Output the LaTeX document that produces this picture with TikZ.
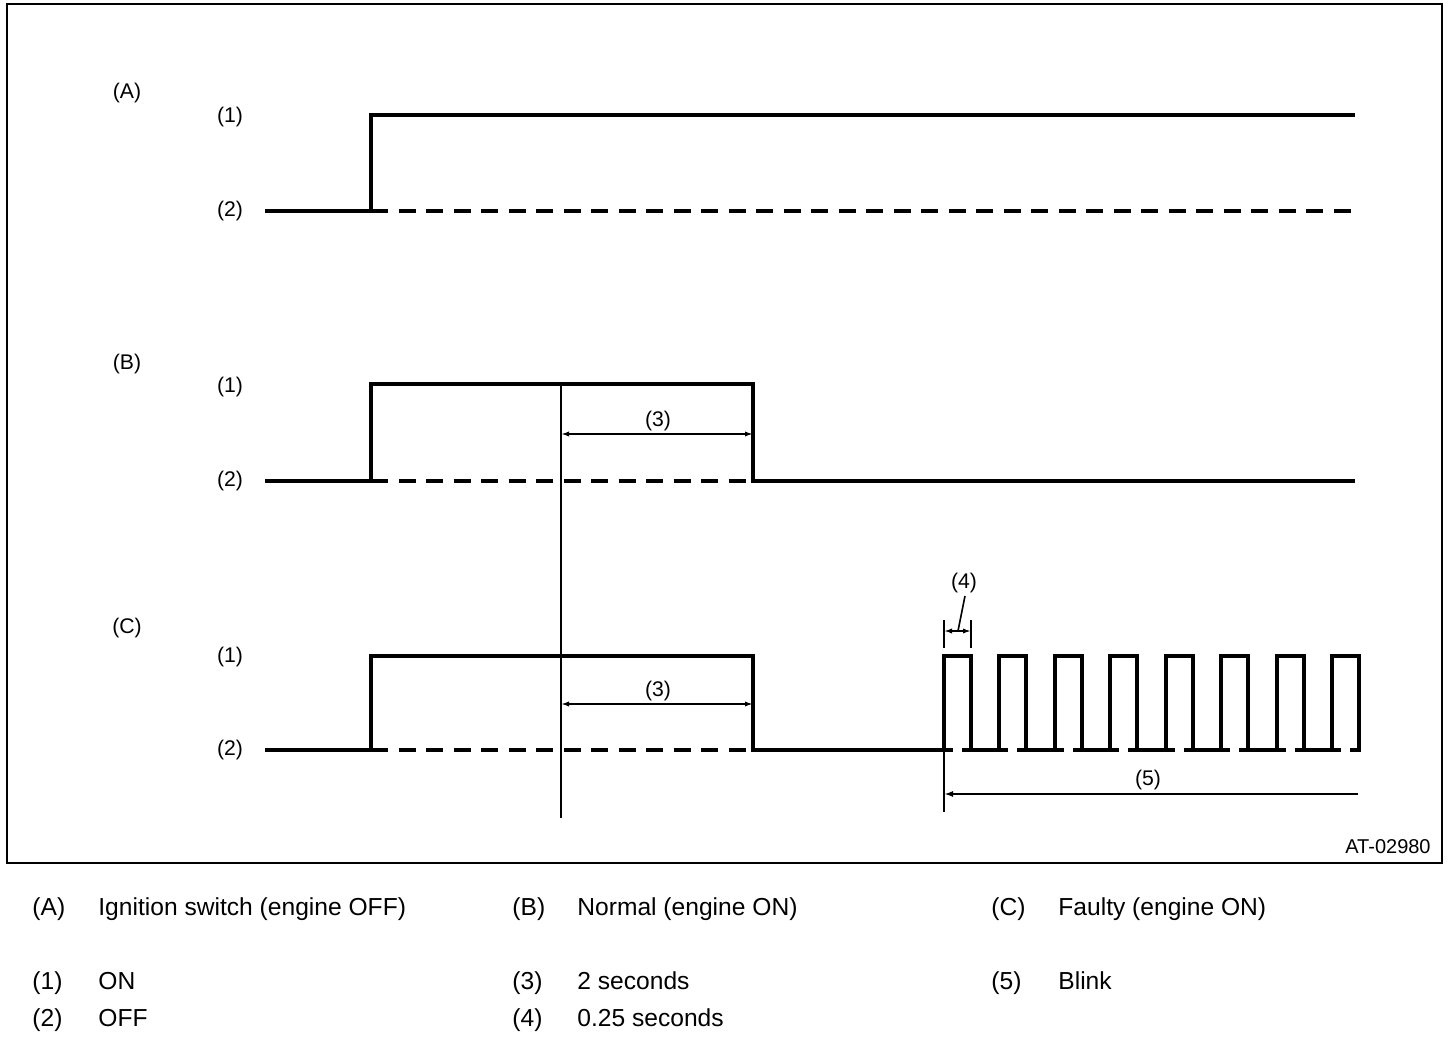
\documentclass[tikz,border=0pt]{standalone}
\usepackage{fontspec}
\setmainfont{Liberation Sans}
\usetikzlibrary{arrows.meta}
\begin{document}
\begin{tikzpicture}[x=0.5pt,y=-0.5pt,
  wave/.style={line width=2pt, line join=miter},
  offdash/.style={line width=2pt, dash pattern=on 8.5pt off 5.25pt},
  thinline/.style={line width=1pt},
  dimarrow/.style={line width=0.8pt, {Latex[length=4pt,width=2.6pt]}-{Latex[length=4pt,width=2.6pt]}},
  onearrow/.style={line width=1pt, -{Latex[length=4.5pt,width=3pt]}},
  lbl/.style={font=\fontsize{10.6}{12}\selectfont, inner sep=0pt},
  leg/.style={font=\fontsize{12.3}{14}\selectfont, inner sep=0pt, anchor=base west}]
\useasboundingbox (0,0) rectangle (1456,1042);
\draw[line width=1pt] (7,4) rectangle (1442,863);

% ---- labels in the diagram
\node[lbl] (lA) at (127,93) {(A)};
\node[lbl] (lA1) at (230,117) {(1)};
\node[lbl] (lA2) at (230,211) {(2)};
\node[lbl] (lB) at (127,364) {(B)};
\node[lbl] (lB1) at (230,387) {(1)};
\node[lbl] (lB2) at (230,481) {(2)};
\node[lbl] (lC) at (127,628) {(C)};
\node[lbl] (lC1) at (230,657) {(1)};
\node[lbl] (lC2) at (230,750) {(2)};
\node[lbl, font=\fontsize{10}{11}\selectfont, anchor=east] (code) at (1431,847) {AT-02980};

% ---- (A) waveform
\draw[offdash] (371,211) -- (1355,211);
\draw[wave] (265,211) -- (371,211) -- (371,115) -- (1355,115);

% ---- (B) waveform
\draw[offdash] (371,481) -- (753,481);
\draw[wave] (265,481) -- (371,481) -- (371,384) -- (753,384) -- (753,481) -- (1355,481);

% ---- (C) waveform
\draw[offdash] (371,750) -- (753,750);
\draw[wave] (265,750) -- (371,750) -- (371,656) -- (753,656) -- (753,750) -- (953,750);
\foreach \i in {0,...,6}{
  \pgfmathsetmacro\r{944+55.43*\i}
  \draw[wave] (\r,750) -- (\r,656) -- (\r+27,656) -- (\r+27,750);
  \draw[wave] (\r+18,750) -- (\r+55.43+9,750);
}
\pgfmathsetmacro\rl{944+55.43*7}
\draw[wave] (\rl,750) -- (\rl,656) -- (\rl+27,656) -- (\rl+27,750) -- (\rl+18,750);

% ---- reference line and (3) dimensions
\coordinate (vtop) at (561,384);
\coordinate (vbot) at (561,818);
\draw[thinline] (vtop) -- (vbot);
\coordinate (b3l) at (561,434);
\coordinate (b3r) at (753,434);
\draw[dimarrow] (b3l) -- (b3r);
\node[lbl] (lb3) at (658,421) {(3)};
\coordinate (c3l) at (561,704);
\coordinate (c3r) at (753,704);
\draw[dimarrow] (c3l) -- (c3r);
\node[lbl] (lc3) at (658,691) {(3)};

% ---- (4) dimension
\coordinate (t4a) at (944,620);
\coordinate (t4b) at (944,648);
\coordinate (t4c) at (971,620);
\coordinate (t4d) at (971,648);
\draw[thinline] (t4a) -- (t4b);
\draw[thinline] (t4c) -- (t4d);
\coordinate (d4l) at (944,631);
\coordinate (d4r) at (971,631);
\draw[dimarrow] (d4l) -- (d4r);
\node[lbl] (l4) at (964,583) {(4)};
\coordinate (lead4top) at (965,596);
\coordinate (lead4) at (958,631);
\draw[line width=0.8pt] (lead4top) -- (lead4);

% ---- (5) dimension
\coordinate (v5top) at (944,750);
\coordinate (v5bot) at (944,812);
\draw[thinline] (v5top) -- (v5bot);
\coordinate (d5r) at (1358,794);
\coordinate (d5l) at (944,794);
\draw[onearrow] (d5r) -- (d5l);
\node[lbl] (l5) at (1148,780) {(5)};

% ---- legend
\node[leg] (kA) at (32,915) {(A)};
\node[leg] (tA) at (98,915) {Ignition switch (engine OFF)};
\node[leg] (kB) at (512,915) {(B)};
\node[leg] (tB) at (577,915) {Normal (engine ON)};
\node[leg] (kC) at (991,915) {(C)};
\node[leg] (tC) at (1058,915) {Faulty (engine ON)};
\node[leg] (k1) at (32,989) {(1)};
\node[leg] (t1) at (98,989) {ON};
\node[leg] (k3) at (512,989) {(3)};
\node[leg] (t3) at (577,989) {2 seconds};
\node[leg] (k5) at (991,989) {(5)};
\node[leg] (t5) at (1058,989) {Blink};
\node[leg] (k2) at (32,1026) {(2)};
\node[leg] (t2) at (98,1026) {OFF};
\node[leg] (k4) at (512,1026) {(4)};
\node[leg] (t4) at (577,1026) {0.25 seconds};
\end{tikzpicture}
\end{document}
